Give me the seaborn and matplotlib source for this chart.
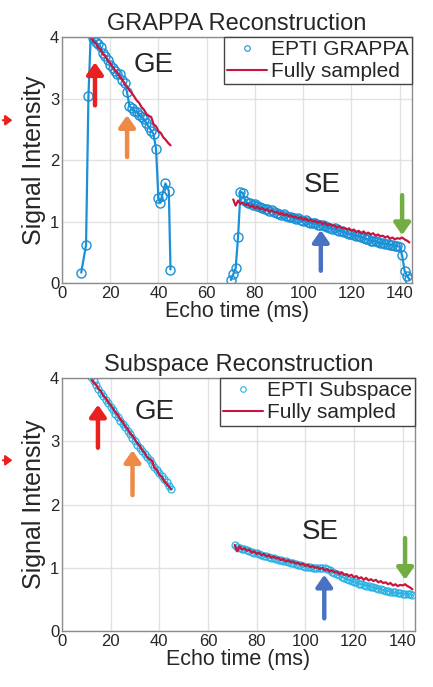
import numpy as np
import pandas as pd
import matplotlib
matplotlib.use("Agg")
import matplotlib.pyplot as plt
import seaborn as sns
from matplotlib.lines import Line2D

# ---------------- data ----------------
# EPTI GRAPPA, gradient-echo section
grappa_ge_t = [8, 10, 11, 12, 13, 14, 15, 16, 17, 18, 19, 20, 21, 22, 23, 24, 25, 26, 27, 28,
               29, 30, 31, 32, 33, 34, 35, 36, 37, 38, 39, 40, 40.7, 41.5, 42.9, 44.3, 45]
grappa_ge_v = [0.17, 0.62, 3.05, 4.10, 3.98, 3.92, 3.88, 3.84, 3.74, 3.70, 3.62, 3.55, 3.50, 3.45,
               3.40, 3.40, 3.30, 3.25, 3.10, 2.88, 2.84, 2.80, 2.78, 2.74, 2.70, 2.66, 2.60, 2.54,
               2.48, 2.42, 2.18, 1.38, 1.30, 1.42, 1.62, 1.50, 0.22]
# EPTI GRAPPA, spin-echo section
grappa_se_t = list(range(70, 145))
grappa_se_v = [0.05, 0.14, 0.24, 0.75, 1.48, 1.47, 1.33, 1.30, 1.30, 1.27,
               1.28, 1.25, 1.24, 1.22, 1.21, 1.20, 1.17, 1.18, 1.15, 1.14,
               1.13, 1.11, 1.12, 1.09, 1.08, 1.07, 1.06, 1.04, 1.05, 1.02,
               1.01, 1.02, 0.99, 0.98, 0.97, 0.97, 0.95, 0.94, 0.95, 0.92,
               0.91, 0.90, 0.88, 0.89, 0.86, 0.85, 0.84, 0.83, 0.81, 0.80,
               0.80, 0.78, 0.77, 0.76, 0.75, 0.73, 0.72, 0.71, 0.69, 0.68,
               0.68, 0.66, 0.65, 0.65, 0.64, 0.63, 0.62, 0.62, 0.61, 0.60,
               0.59, 0.45, 0.20, 0.12, 0.06]
# Fully sampled reference
full_ge_t = list(range(12, 46))
full_ge_v = [4.00, 3.93, 3.90, 3.83, 3.80, 3.72, 3.69, 3.62, 3.58, 3.52, 3.46, 3.42, 3.35, 3.31,
             3.24, 3.20, 3.13, 3.09, 3.03, 2.97, 2.93, 2.86, 2.82, 2.75, 2.72, 2.70, 2.58, 2.55,
             2.47, 2.44, 2.37, 2.33, 2.28, 2.24]
full_se_t = list(range(71, 145))
full_se_v = [1.36, 1.26, 1.34, 1.29, 1.31, 1.27, 1.29, 1.24, 1.26, 1.22,
             1.24, 1.20, 1.22, 1.18, 1.20, 1.16, 1.18, 1.15, 1.16, 1.12,
             1.14, 1.10, 1.12, 1.09, 1.10, 1.07, 1.08, 1.05, 1.07, 1.03,
             1.05, 1.01, 1.03, 1.00, 1.01, 0.98, 1.00, 0.96, 0.98, 0.94,
             0.96, 0.93, 0.94, 0.90, 0.93, 0.89, 0.90, 0.87, 0.89, 0.85,
             0.87, 0.83, 0.85, 0.81, 0.84, 0.80, 0.82, 0.79, 0.81, 0.77,
             0.79, 0.76, 0.77, 0.74, 0.76, 0.72, 0.74, 0.71, 0.73, 0.72,
             0.74, 0.71, 0.69, 0.66]
# EPTI Subspace
sub_ge_t = list(range(12, 46))
sub_ge_v = [4.02, 3.95, 3.89, 3.83, 3.77, 3.72, 3.66, 3.60, 3.55, 3.49, 3.44, 3.38, 3.33, 3.27,
            3.22, 3.16, 3.11, 3.06, 3.01, 2.95, 2.90, 2.85, 2.80, 2.75, 2.70, 2.65, 2.60, 2.55,
            2.50, 2.45, 2.40, 2.35, 2.30, 2.24]
sub_se_t = list(range(71, 145))
sub_se_v = [1.36, 1.33, 1.32, 1.30, 1.29, 1.28, 1.27, 1.25, 1.24, 1.23,
            1.22, 1.20, 1.19, 1.18, 1.17, 1.16, 1.15, 1.14, 1.13, 1.12,
            1.11, 1.10, 1.09, 1.08, 1.07, 1.06, 1.05, 1.04, 1.03, 1.02,
            1.02, 1.01, 1.00, 1.00, 0.99, 0.99, 0.99, 0.99, 0.98, 0.96,
            0.94, 0.92, 0.90, 0.88, 0.86, 0.84, 0.82, 0.81, 0.79, 0.78,
            0.77, 0.75, 0.74, 0.73, 0.72, 0.71, 0.70, 0.69, 0.68, 0.67,
            0.66, 0.65, 0.64, 0.63, 0.62, 0.61, 0.61, 0.60, 0.60, 0.59,
            0.59, 0.58, 0.58, 0.57]

titles = ["GRAPPA Reconstruction", "Subspace Reconstruction"]
legend_labels = [["EPTI GRAPPA", "Fully sampled"], ["EPTI Subspace", "Fully sampled"]]
x_ticks = [0, 20, 40, 60, 80, 100, 120, 140]
y_ticks = [0, 1, 2, 3, 4]
# arrows: (x, y_tail, y_head, colour)
arrows_top = [(13.7, 2.89, 3.59, "#e8201e"), (27.0, 2.05, 2.73, "#ee8a48"),
              (107.3, 0.20, 0.86, "#4a72c2"), (141.0, 1.43, 0.78, "#72ad44")]
arrows_bot = [(14.8, 2.90, 3.58, "#e8201e"), (29.0, 2.15, 2.86, "#ee8a48"),
              (107.8, 0.20, 0.89, "#4a72c2"), (141.0, 1.47, 0.81, "#72ad44")]

# ---------------- style ----------------
sns.set_theme(style="whitegrid")
plt.rcParams["font.family"] = ["Liberation Sans", "DejaVu Sans"]
plt.rcParams["axes.edgecolor"] = "#8c8c8c"
plt.rcParams["grid.color"] = "#e2e2e2"

BLUE = "#1a90d6"
CYAN = "#2ab2e4"
RED = "#c8163e"

fig = plt.figure(figsize=(4.33, 6.87), dpi=100)
ax1 = fig.add_axes([0.143, 0.588, 0.808, 0.358])
ax2 = fig.add_axes([0.143, 0.0815, 0.815, 0.368])

def seg(ax, t, v, color, marker=True, ms=6, lw=1.5, mew=1.0):
    df = pd.DataFrame({"t": t, "v": v})
    if marker:
        sns.lineplot(data=df, x="t", y="v", ax=ax, color=color, lw=lw, estimator=None,
                     marker="o", markersize=ms, markerfacecolor="none",
                     markeredgecolor=color, markeredgewidth=mew)
    else:
        sns.lineplot(data=df, x="t", y="v", ax=ax, color=color, lw=lw, estimator=None)

# top panel
seg(ax1, grappa_ge_t, grappa_ge_v, BLUE, ms=6.5, lw=1.6)
seg(ax1, grappa_se_t, grappa_se_v, BLUE, ms=6.5, lw=1.6)
seg(ax1, full_ge_t, full_ge_v, RED, marker=False, lw=1.6)
seg(ax1, full_se_t, full_se_v, RED, marker=False, lw=1.6)
# bottom panel
seg(ax2, sub_ge_t, sub_ge_v, CYAN, ms=5, lw=1.2, mew=0.9)
seg(ax2, sub_se_t, sub_se_v, CYAN, ms=5, lw=1.2, mew=0.9)
seg(ax2, full_ge_t, full_ge_v, RED, marker=False, lw=1.6)
seg(ax2, full_se_t, full_se_v, RED, marker=False, lw=1.6)

for ax, title, labs, arrs, mc, ge_pos, se_pos in [
        (ax1, titles[0], legend_labels[0], arrows_top, BLUE, (38, 3.55), (107.7, 1.6)),
        (ax2, titles[1], legend_labels[1], arrows_bot, CYAN, (38, 3.47), (106, 1.57))]:
    ax.set_xlim(0, 145)
    ax.set_ylim(0, 4)
    ax.set_xticks(x_ticks)
    ax.set_yticks(y_ticks)
    ax.tick_params(labelsize=12, length=0, pad=2)
    ax.set_xlabel("Echo time (ms)", fontsize=15.5, labelpad=0)
    ax.set_ylabel("Signal Intensity", fontsize=18, labelpad=3)
    ax.set_title(title, fontsize=17, pad=5)
    for s in ax.spines.values():
        s.set_visible(True)
        s.set_color("#8c8c8c")
        s.set_linewidth(1.0)
    ax.text(*ge_pos, "GE", fontsize=20, ha="center", va="center")
    ax.text(*se_pos, "SE", fontsize=20, ha="center", va="center")
    for x, y0, y1, c in arrs:
        ax.annotate("", xy=(x, y1), xytext=(x, y0),
                    arrowprops=dict(arrowstyle="-|>,head_length=0.5,head_width=0.35",
                                    color=c, lw=3.2, shrinkA=0, shrinkB=0,
                                    mutation_scale=14))
    handles = [Line2D([], [], ls="none", marker="o", ms=4, mfc="none", mec=mc, mew=0.8),
               Line2D([], [], color=RED, lw=1.5)]
    leg = ax.legend(handles, labs, loc="upper right", fontsize=15, frameon=True,
                    fancybox=False, framealpha=1, edgecolor="#444444",
                    borderaxespad=0, handlelength=1.9, handletextpad=0.2,
                    borderpad=0.15, labelspacing=0.15)
    leg.get_frame().set_linewidth(1.0)

# small red arrows at left edge
for yf in [0.825, 0.330]:
    fig.patches.append(matplotlib.patches.FancyArrowPatch(
        (0.0, yf), (0.035, yf), transform=fig.transFigure,
        arrowstyle="-|>,head_length=0.4,head_width=0.3", mutation_scale=10,
        color="#e8201e", lw=1.5))

fig.savefig("out.png", dpi=100)
